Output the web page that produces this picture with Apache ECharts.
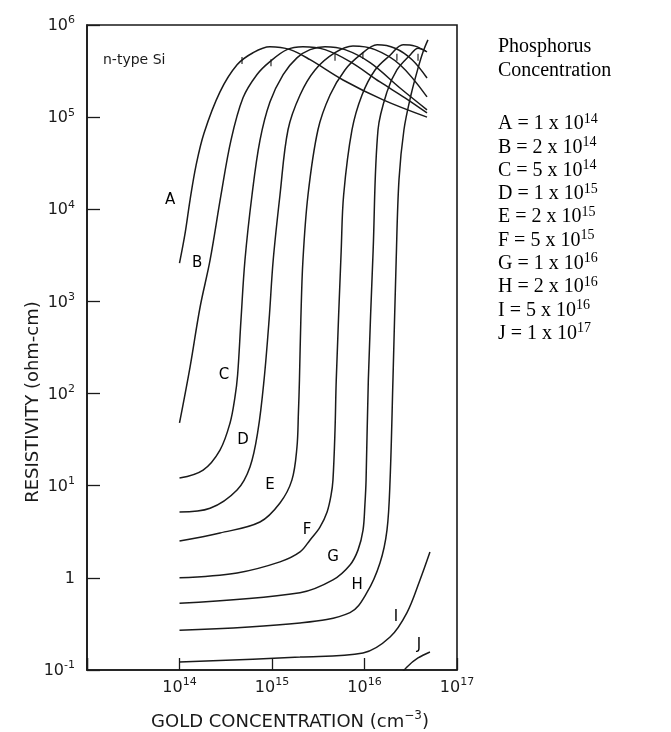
<!DOCTYPE html>
<html><head><meta charset="utf-8">
<script src="https://cdn.jsdelivr.net/npm/echarts@6/dist/echarts.min.js"></script>
<style>html,body{margin:0;padding:0;background:#fff}#c{width:671px;height:732px}</style>
</head><body><div id="c"></div>
<script>
// Gold concentration (cm^-3) vs resistivity (ohm-cm), one curve per phosphorus concentration
const curveNames = ['A','B','C','D','E','F','G','H','I','J'];
const curveA = [[1.0e14,2.6e3],[1.15e14,5.5e3],[1.3e14,1.26e4],[1.51e14,3.0e4],[1.84e14,6.7e4],[2.74e14,1.88e5],[4.19e14,3.7e5],[6.24e14,5.0e5],[9.5e14,5.8e5],[1.57e15,5.4e5],[2.58e15,4.2e5],[5.86e15,2.53e5],[1.59e16,1.54e5],[4.74e16,1.0e5]];
const curveB = [[1.0e14,48],[1.3e14,194],[1.67e14,870],[2.14e14,2.8e3],[2.81e14,1.43e4],[3.6e14,5.6e4],[4.86e14,1.62e5],[6.89e14,2.9e5],[9.5e14,4.0e5],[1.45e15,5.4e5],[2.16e15,5.8e5],[3.74e15,5.4e5],[6.97e15,4.0e5],[1.47e16,2.41e5],[2.74e16,1.62e5],[4.74e16,1.11e5]];
const curveC = [[1.0e14,12.1],[1.8e14,14.8],[2.74e14,24.4],[3.52e14,48],[3.98e14,92],[4.25e14,160],[4.62e14,630],[5.1e14,2.8e3],[6.08e14,1.43e4],[7.41e14,5.6e4],[9.5e14,1.46e5],[1.32e15,2.9e5],[1.86e15,4.4e5],[2.58e15,5.4e5],[3.74e15,5.8e5],[6.15e15,5.4e5],[1.15e16,3.9e5],[2.42e16,2.07e5],[4.74e16,1.2e5]];
const curveD = [[1.0e14,5.2],[2.14e14,5.7],[4.19e14,9.0],[5.78e14,16],[7.06e14,40],[8.2e14,140],[9.3e14,630],[1.03e15,2.8e3],[1.22e15,1.43e4],[1.49e15,7.3e4],[2.01e15,1.74e5],[2.92e15,3.25e5],[4.8e15,5.0e5],[7.51e15,5.9e5],[1.3e16,5.4e5],[2.42e16,3.7e5],[4.74e16,1.66e5]];
const curveE = [[1.0e14,2.51],[2.74e14,3.07],[7.41e14,4.04],[1.22e15,6.5],[1.64e15,11.5],[1.86e15,26],[1.93e15,62],[1.98e15,140],[2.05e15,630],[2.16e15,2.8e3],[2.45e15,1.43e4],[3.14e15,7.3e4],[4.24e15,1.74e5],[6.15e15,3.25e5],[8.93e15,4.7e5],[1.37e16,6.1e5],[2.14e16,5.6e5],[3.27e16,4.2e5],[4.74e16,2.66e5]];
const curveF = [[1.0e14,1.0],[4.19e14,1.13],[1.22e15,1.49],[2.01e15,1.91],[2.58e15,2.58],[3.3e15,3.56],[3.94e15,5.2],[4.35e15,7.9],[4.56e15,11.5],[4.8e15,40],[4.95e15,140],[5.6e15,3.6e3],[5.95e15,1.43e4],[7.33e15,7.3e4],[9.4e15,1.74e5],[1.3e16,3.25e5],[1.89e16,4.7e5],[2.61e16,6.1e5],[3.52e16,5.9e5],[4.74e16,5.1e5]];
const curveG = [[1.0e14,0.53],[2.01e15,0.69],[4.56e15,0.95],[6.97e15,1.38],[8.5e15,2.0],[9.64e15,3.3],[1.01e16,6.2],[1.04e16,11.5],[1.1e16,140],[1.24e16,3.6e3],[1.4e16,7.3e4],[1.75e16,1.88e5],[2.24e16,3.25e5],[3.1e16,4.7e5],[3.79e16,5.6e5],[4.6e16,5.2e5]];
const curveH = [[1.0e14,0.27],[2.01e15,0.324],[6.97e15,0.42],[1.06e16,0.69],[1.47e16,1.45],[1.75e16,3.3],[1.89e16,11.5],[2.03e16,140],[2.2e16,2.8e3],[2.36e16,2.1e4],[2.67e16,7.3e4],[3.18e16,1.74e5],[3.79e16,3.4e5],[4.29e16,5.1e5],[4.85e16,6.9e5]];
const curveI = [[1.0e14,0.122],[2.01e15,0.138],[9.64e15,0.153],[1.89e16,0.228],[2.88e16,0.42],[3.98e16,0.95],[5.1e16,1.91]];
const curveJ = [[2.3e16,0.082],[2.88e16,0.108],[3.79e16,0.135],[5.1e16,0.157]];
const curves = [curveA,curveB,curveC,curveD,curveE,curveF,curveG,curveH,curveI,curveJ];
// curve letter label anchors [gold, resistivity]
const labelPos = [[7.9e13,1.26e4],[1.55e14,2.6e3],[3.03e14,159],[4.86e14,31],[9.5e14,10.2],[2.39e15,3.3],[4.56e15,1.68],[8.3e15,0.84],[2.19e16,0.376],[3.88e16,0.187]];
// small tick marks drawn on curves near the maxima
const peakMarks = [[4.74e14,4.13e5],[9.75e14,3.9e5],[4.8e15,4.46e5],[9.6e15,4.68e5],[2.24e16,4.46e5],[3.79e16,4.46e5]];
// phosphorus concentration legend
const phosCoef = [1,2,5,1,2,5,1,2,5,1];
const phosExp = [14,14,14,15,15,15,16,16,16,17];
const xTickExps = [14,15,16,17];
const yTickExps = [-1,0,1,2,3,4,5,6];

const INK = '#1a1a1a';
const sans = 'DejaVu Sans';
const rich = {
  b:{fontSize:16, fontFamily:sans, color:INK, verticalAlign:'bottom', lineHeight:18},
  s:{fontSize:11, fontFamily:sans, color:INK, verticalAlign:'bottom', lineHeight:18, padding:[0,0,8,0]}
};
function powLabel(v, allowed){
  const e = Math.round(Math.log10(v));
  if (allowed.indexOf(e) < 0) return '';
  if (e === 0) return '{b|1}';
  return '{b|10}{s|' + e + '}';
}

const chart = echarts.init(document.getElementById('c'), null, {renderer:'canvas'});
const series = curves.map((d,i)=>({
  type:'line', name:curveNames[i], data:d, showSymbol:false, smooth:0.35, clip:true,
  lineStyle:{color:INK, width:1.5}, silent:true, z:2
}));
series.push({
  type:'scatter', data:peakMarks, symbol:'rect', symbolSize:[1.4,7],
  itemStyle:{color:INK}, silent:true, z:3
});
series.push({
  type:'scatter', data:labelPos.map((p,i)=>({value:p, name:curveNames[i]})), symbolSize:0,
  itemStyle:{color:INK},
  label:{show:true, position:'inside', formatter:p=>p.name, fontFamily:sans, fontSize:15, color:'#000', textBorderWidth:0, opacity:1},
  silent:true, z:4
});

const rtRich = {
  t:{fontFamily:'Liberation Serif', fontSize:20, color:'#000', verticalAlign:'bottom', lineHeight:22},
  u:{fontFamily:'Liberation Serif', fontSize:14, color:'#000', verticalAlign:'bottom', lineHeight:22, padding:[0,0,8,0]}
};
const graphics = [
  {type:'text', left:103, top:53, style:{text:'n-type Si', font:'14px "DejaVu Sans"', fill:INK}},
  {type:'text', x:33, y:402, rotation:Math.PI/2, style:{text:'RESISTIVITY (ohm-cm)', font:'18px "DejaVu Sans"', fill:INK, align:'center', verticalAlign:'middle'}},
  {type:'text', x:290, y:722, style:{text:'GOLD CONCENTRATION (cm{s|\u22123})', rich:{s:{fontSize:12, fontFamily:sans, fill:INK, padding:[0,0,9,0], verticalAlign:'bottom', lineHeight:18}}, font:'18px "DejaVu Sans"', fill:INK, align:'center', verticalAlign:'middle'}},
  {type:'text', left:498, top:37, style:{text:'Phosphorus', font:'20px "Liberation Serif"', fill:'#000'}},
  {type:'text', left:498, top:61, style:{text:'Concentration', font:'20px "Liberation Serif"', fill:'#000'}}
];
phosExp.forEach((e,i)=>{
  graphics.push({type:'text', left:498, top:112 + i*23.3, style:{
    text:'{t|' + curveNames[i] + ' = ' + phosCoef[i] + ' x 10}{u|' + e + '}', rich:rtRich, fill:'#000'}});
});

chart.setOption({
  animation:false,
  backgroundColor:'#fff',
  grid:{left:87, top:25, width:370, height:645, show:true, borderColor:INK, borderWidth:1.6, backgroundColor:'transparent'},
  xAxis:{type:'log', logBase:10, min:1e13, max:1e17, splitNumber:4,
    axisLine:{show:true, lineStyle:{color:INK, width:1.6}},
    axisTick:{show:true, inside:true, length:12, lineStyle:{color:INK, width:1.3}},
    minorTick:{show:false}, splitLine:{show:false},
    axisLabel:{margin:8, formatter:v=>powLabel(v, xTickExps), rich:rich}},
  yAxis:{type:'log', logBase:10, min:0.1, max:1e6, splitNumber:7,
    axisLine:{show:true, lineStyle:{color:INK, width:1.6}},
    axisTick:{show:true, inside:true, length:13, lineStyle:{color:INK, width:1.3}},
    minorTick:{show:false}, splitLine:{show:false},
    axisLabel:{margin:12, formatter:v=>powLabel(v, yTickExps), rich:rich}},
  series:series,
  graphic:graphics
});
</script></body></html>
